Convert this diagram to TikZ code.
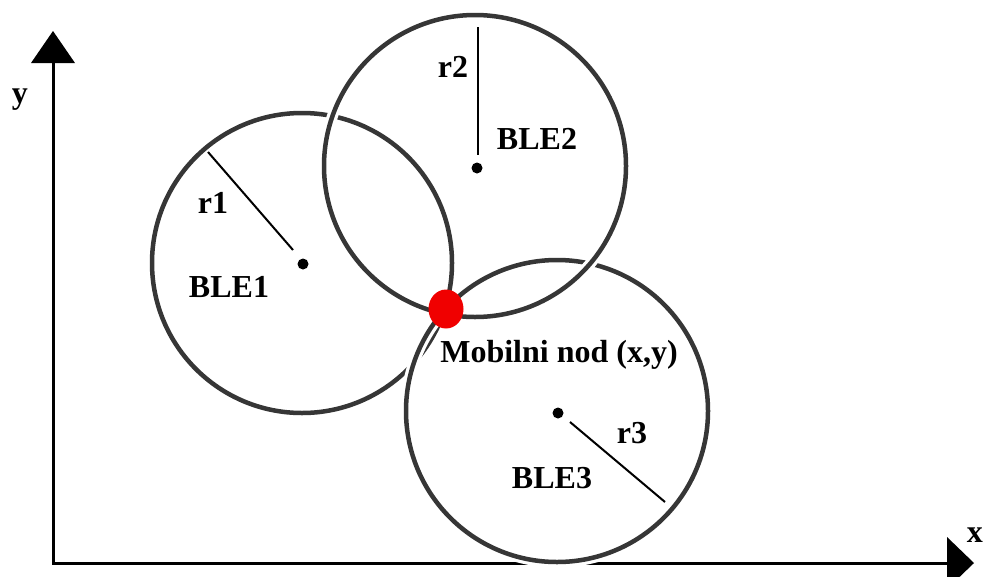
\documentclass[tikz,border=0pt]{standalone}
\usepackage{fontspec}
\usetikzlibrary{shapes.geometric}
\setmainfont{Liberation Serif}
\definecolor{ringgray}{HTML}{363636}
\definecolor{nodered}{HTML}{F00000}
\begin{document}
\begin{tikzpicture}[x=1pt,y=-1pt,
  ringnode/.style={circle, inner sep=0pt, draw=ringgray, line width=4.5pt,
    preaction={draw=white, line width=11pt}},
  axisline/.style={line width=3pt, black},
  radline/.style={line width=2pt, black},
  dotc/.style={circle, fill=black, inner sep=0pt, minimum size=11pt},
  lbl/.style={font=\bfseries\fontsize{32}{38}\selectfont, inner sep=0pt, anchor=base}]
\useasboundingbox (0,0) rectangle (984,576);
% axes
\coordinate (origin) at (53,563);
\coordinate (yend) at (53,62);
\coordinate (xend) at (948,563);
\draw[axisline] (yend) -- (origin) -- (xend);
\fill[black] (53,31) -- (75,63) -- (31,63) -- cycle;
\fill[black] (974,563) -- (947,537) -- (947,589) -- cycle;
\node[lbl] (ylab) at (20,103) {y};
\node[lbl, anchor=base east] (xlab) at (983,542) {x};
% circles
\node[ringnode, minimum size=300pt] (c1) at (302,263) {};
\node[ringnode, minimum size=302pt] (c3) at (557,411) {};
\node[ringnode, minimum size=302pt] (c2) at (475,166) {};
% centers
\node[dotc] (d1) at (303,264) {};
\node[dotc] (d2) at (477,168) {};
\node[dotc] (d3) at (558,413) {};
% radii
\coordinate (r1a) at (208,152);
\coordinate (r1b) at (293,250);
\coordinate (r2a) at (478,27);
\coordinate (r2b) at (478,155);
\coordinate (r3a) at (570,422);
\coordinate (r3b) at (665,502);
\draw[radline] (r1a) -- (r1b);
\draw[radline] (r2a) -- (r2b);
\draw[radline] (r3a) -- (r3b);
% mobile node
\node[ellipse, fill=nodered, inner sep=0pt, minimum width=35pt, minimum height=39pt] (mob) at (446,309) {};
% labels
\node[lbl] (l_r1) at (213,213) {r1};
\node[lbl] (l_ble1) at (229,297) {BLE1};
\node[lbl] (l_r2) at (453,77) {r2};
\node[lbl] (l_ble2) at (537,149) {BLE2};
\node[lbl] (l_mob) at (559,362) {Mobilni nod (x,y)};
\node[lbl] (l_r3) at (632,443) {r3};
\node[lbl] (l_ble3) at (552,488) {BLE3};
\end{tikzpicture}
\end{document}
